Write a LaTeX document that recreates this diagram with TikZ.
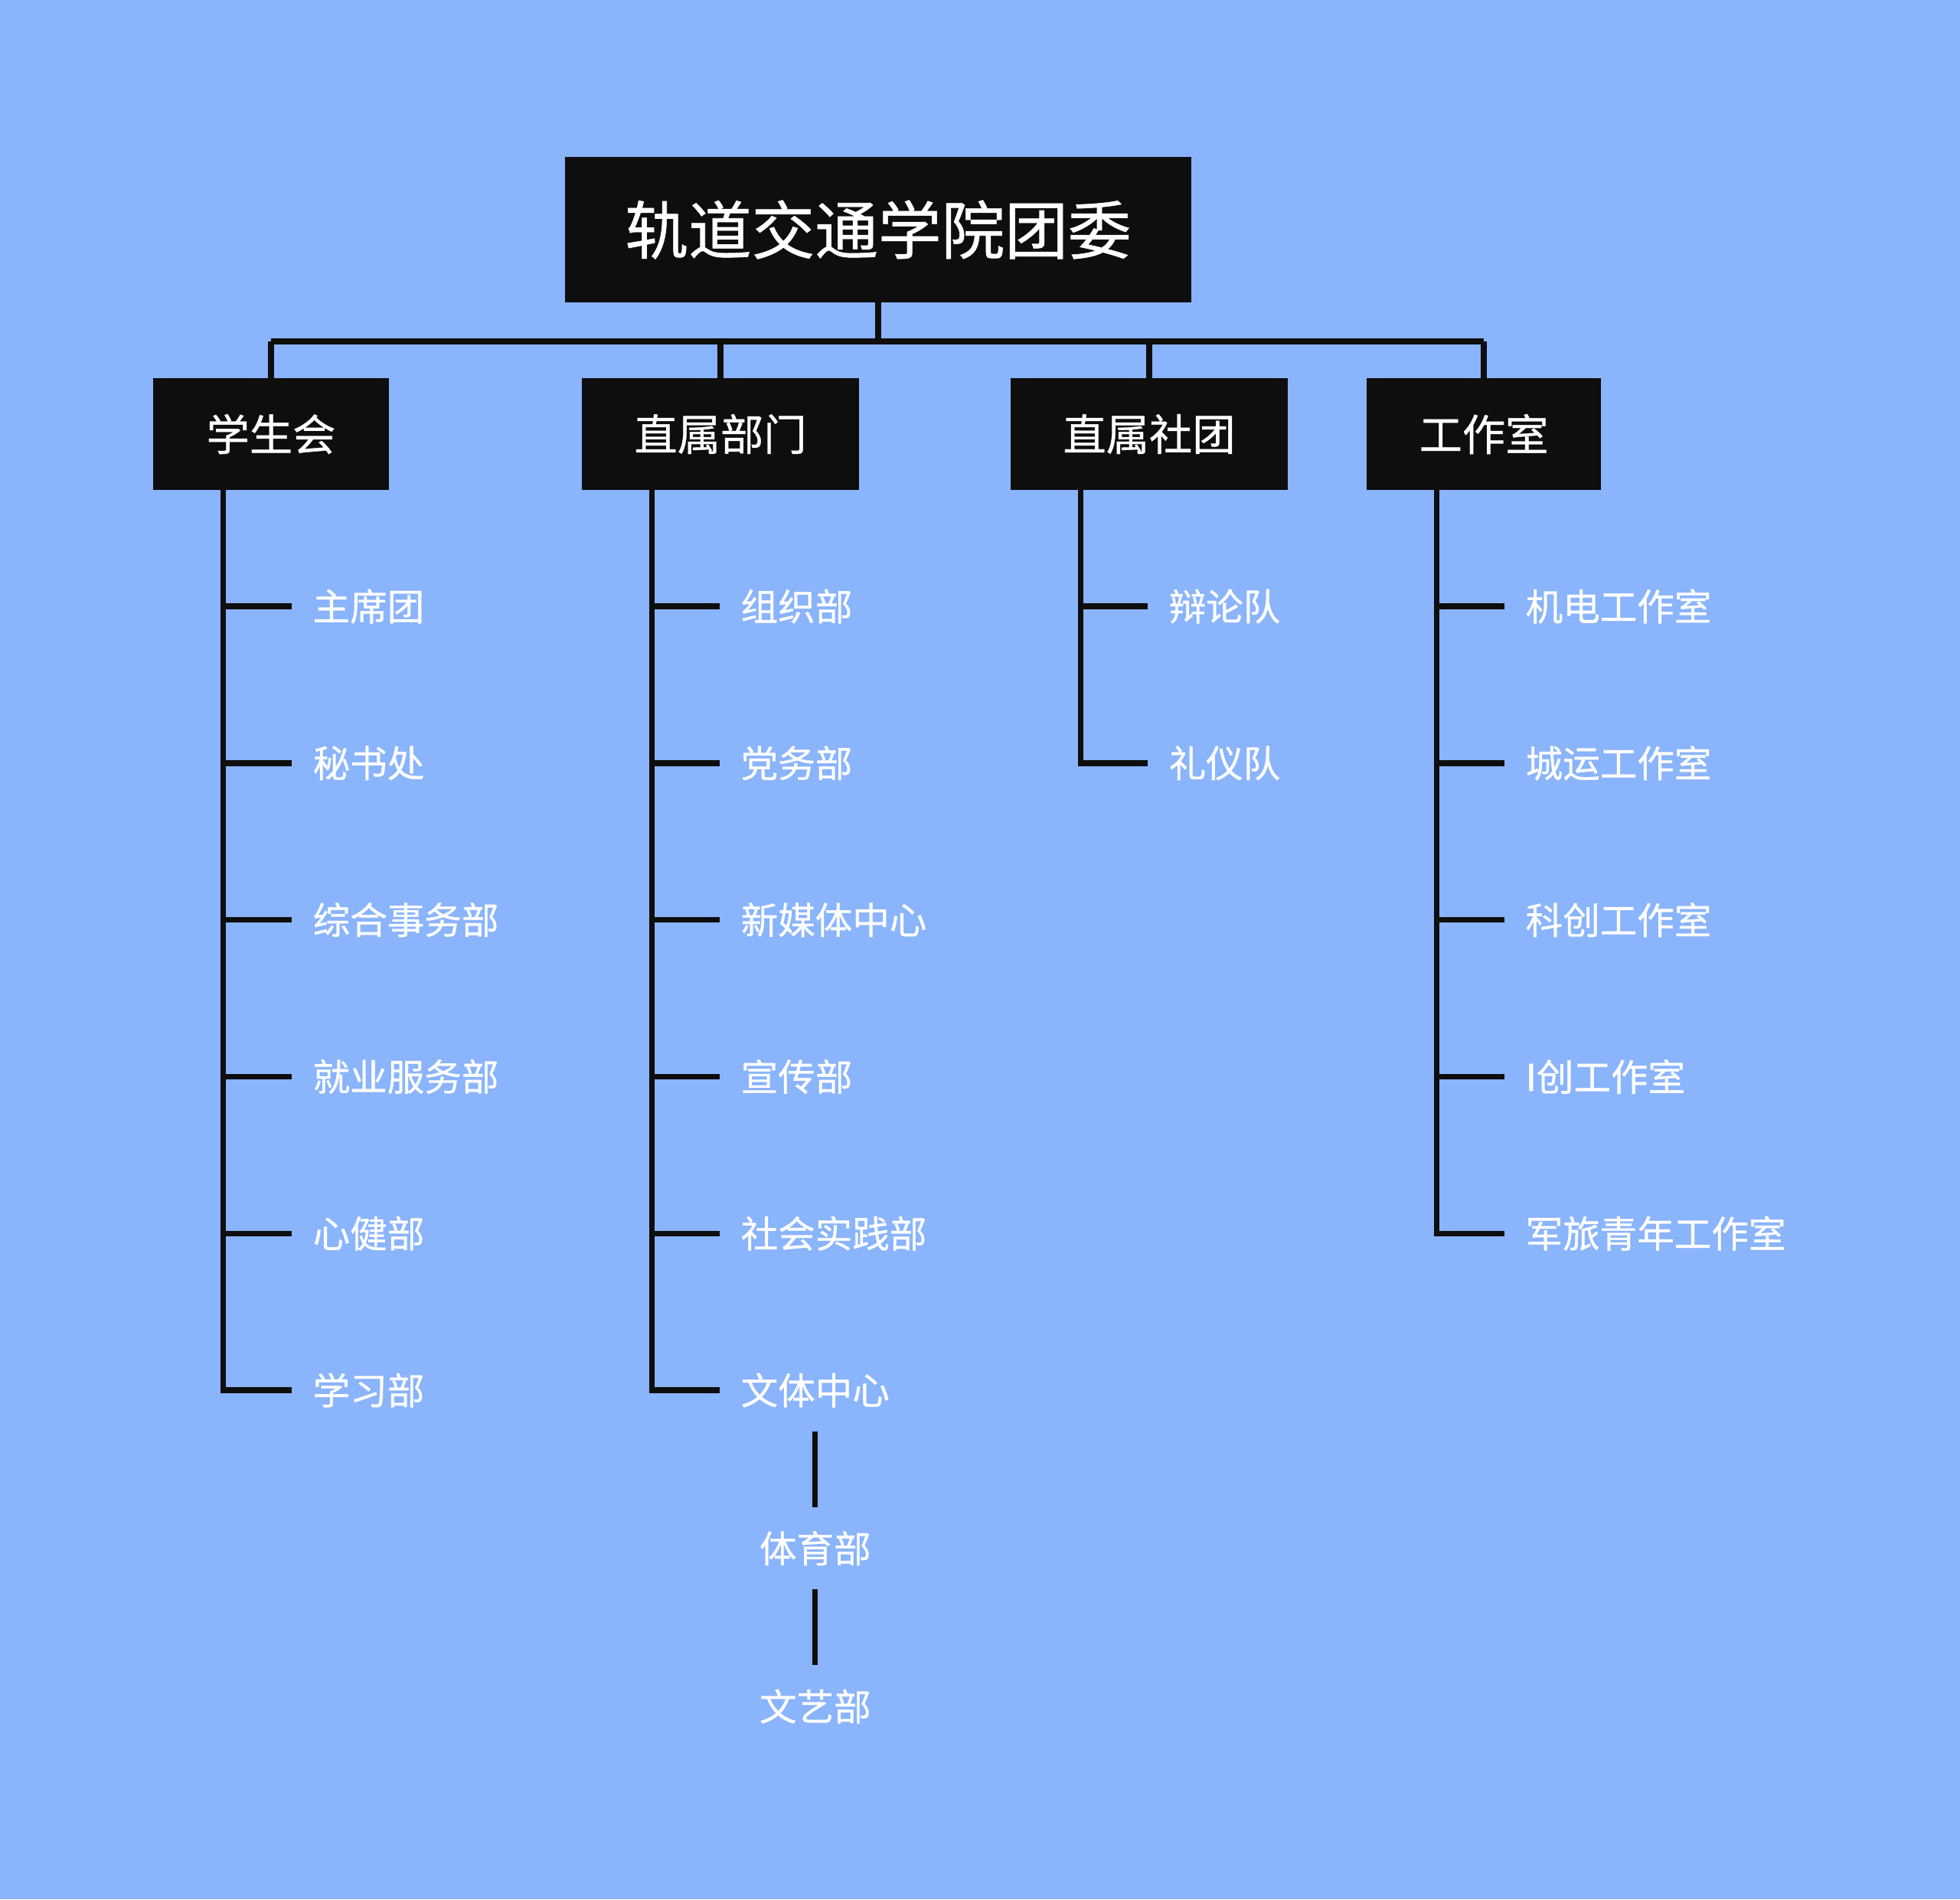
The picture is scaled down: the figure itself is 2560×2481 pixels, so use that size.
\documentclass[tikz,border=0pt]{standalone}
\usepackage{fontspec}
\setmainfont{Noto Sans CJK SC}[FakeBold=0.7]
\usetikzlibrary{positioning}
\definecolor{bgblue}{HTML}{8AB4FC}
\definecolor{boxblack}{HTML}{0E0E0E}
\tikzset{
  conn/.style={line width=2.1pt,boxblack},
  topbox/.style={fill=boxblack,text=white,font=\fontsize{23.5}{28}\selectfont,
    minimum width=8.18cm,minimum height=1.89cm},
  headbox/.style={fill=boxblack,text=white,font=\fontsize{16}{19}\selectfont,
    minimum height=1.45cm},
  leaf/.style={text=white,font=\fontsize{13.8}{17}\selectfont,inner xsep=0.27cm,
    inner ysep=0pt,minimum height=1.06cm,anchor=west}
}
\begin{document}
\begin{tikzpicture}[x=0.01cm,y=-0.01cm]
    \fill[bgblue] (0,0) rectangle (2560,2481);

    \node[topbox] (root) at (1147,300) {轨道交通学院团委};
    \node[headbox,minimum width=3.07cm] (xsh) at (354,567) {学生会};
    \node[headbox,minimum width=3.61cm] (zsbm) at (941,567) {直属部门};
    \node[headbox,minimum width=3.61cm] (zsst) at (1501,567) {直属社团};
    \node[headbox,minimum width=3.06cm] (gzs) at (1938,567) {工作室};

    \coordinate (bus) at (0,446);
    \draw[conn] (root.south) -- (root.south |- bus);
    \draw[conn] (xsh.north |- bus) -- (gzs.north |- bus);
    \foreach \b in {xsh,zsbm,zsst,gzs}{
      \draw[conn] (\b.north |- bus) -- (\b.north);
      \coordinate (\b T) at ([xshift=0.92cm]\b.south west);
    }

    \foreach \t [count=\i] in {主席团,秘书处,综合事务部,就业服务部,心健部,学习部}
      \node[leaf] (xsh\i) at (381,{792+204.8*(\i-1)}) {\t};
    \foreach \t [count=\i] in {组织部,党务部,新媒体中心,宣传部,社会实践部,文体中心}
      \node[leaf] (zsbm\i) at (940,{792+204.8*(\i-1)}) {\t};
    \foreach \t [count=\i] in {辩论队,礼仪队}
      \node[leaf] (zsst\i) at (1499,{792+204.8*(\i-1)}) {\t};
    \foreach \t [count=\i] in {机电工作室,城运工作室,科创工作室,I创工作室,军旅青年工作室}
      \node[leaf] (gzs\i) at (1965,{792+204.8*(\i-1)}) {\t};

    \draw[conn] (xshT) |- (xsh6.west);
    \foreach \i in {1,...,5}
      \draw[conn] (xshT |- xsh\i.west) -- (xsh\i.west);
    \draw[conn] (zsbmT) |- (zsbm6.west);
    \foreach \i in {1,...,5}
      \draw[conn] (zsbmT |- zsbm\i.west) -- (zsbm\i.west);
    \draw[conn] (zsstT) |- (zsst2.west);
    \draw[conn] (zsstT |- zsst1.west) -- (zsst1.west);
    \draw[conn] (gzsT) |- (gzs5.west);
    \foreach \i in {1,...,4}
      \draw[conn] (gzsT |- gzs\i.west) -- (gzs\i.west);

    \node[leaf,below=0.99cm of zsbm6] (tyb) {体育部};
    \node[leaf,below=0.99cm of tyb] (wyb) {文艺部};
    \draw[conn] (zsbm6.south) -- (tyb.north);
    \draw[conn] (tyb.south) -- (wyb.north);

\end{tikzpicture}
\end{document}
